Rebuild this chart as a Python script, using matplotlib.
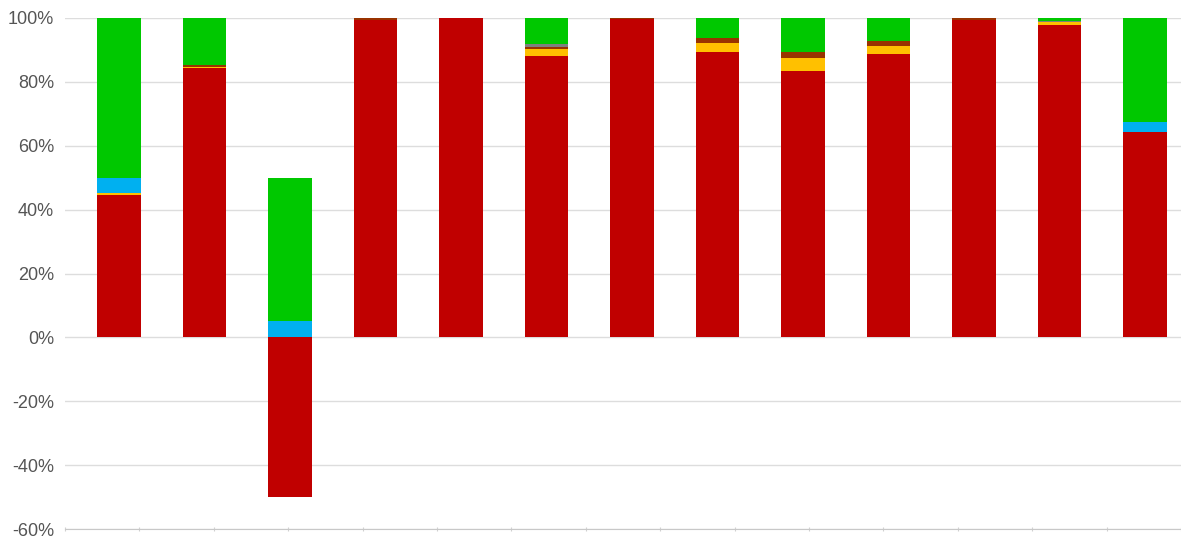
import numpy as np
import matplotlib.pyplot as plt
from matplotlib.ticker import FuncFormatter

# 13 unlabeled categories, stacked shares in percent (bottom to top)
categories = list(range(13))
red = [44.5, 84.3, -50.0, 99.5, 100.0, 88.0, 99.6, 89.5, 83.5, 88.8, 99.5, 97.8, 64.3]
yellow = [0.8, 0.5, 0.0, 0.0, 0.0, 2.4, 0.0, 2.7, 4.1, 2.5, 0.0, 0.8, 0.0]
brown = [0.0, 0.5, 0.0, 0.5, 0.0, 0.6, 0.4, 1.6, 1.9, 1.6, 0.5, 0.0, 0.0]
gray = [0.0, 0.0, 0.0, 0.0, 0.0, 1.0, 0.0, 0.0, 0.0, 0.0, 0.0, 0.4, 0.0]
blue = [4.5, 0.0, 5.0, 0.0, 0.0, 0.0, 0.0, 0.0, 0.0, 0.0, 0.0, 0.0, 3.1]
green = [50.2, 14.7, 45.0, 0.0, 0.0, 8.0, 0.0, 6.2, 10.5, 7.1, 0.0, 1.0, 32.6]

series = [red, yellow, brown, gray, blue, green]
colors = ['#C00000', '#FFC000', '#993300', '#7F7F7F', '#00B0F0', '#00C800']

plt.rcParams['font.family'] = ['Liberation Sans', 'DejaVu Sans']

fig = plt.figure(figsize=(11.81, 5.4), dpi=100)
ax = fig.add_axes([65 / 1181, 1 - 529 / 540, 1 - 65 / 1181, (529 - 18) / 540])

x = np.arange(len(categories))
pos_base = np.zeros(len(categories))
neg_base = np.zeros(len(categories))
for vals, c in zip(series, colors):
    v = np.array(vals)
    base = np.where(v >= 0, pos_base, neg_base)
    ax.bar(x, v, width=0.51, bottom=base, color=c, zorder=3)
    pos_base += np.where(v >= 0, v, 0)
    neg_base += np.where(v < 0, v, 0)

xmin, xmax = -0.63, 12.42
ax.set_xlim(xmin, xmax)
ax.set_ylim(-60, 100)
ax.set_yticks(np.arange(-60, 101, 20))
ax.yaxis.set_major_formatter(FuncFormatter(lambda v, p: '%d%%' % v))
ax.grid(axis='y', color='#DDDDDD', linewidth=1, zorder=0)

ax.set_xticks(np.linspace(xmin, xmax, 16))
ax.set_xticklabels([])
ax.tick_params(axis='x', length=3, color='#D0D0D0', direction='inout')
ax.tick_params(axis='y', length=0, labelsize=13, labelcolor='#555555', pad=8)

for s in ['top', 'right', 'left']:
    ax.spines[s].set_visible(False)
ax.spines['bottom'].set_color('#C8C8C8')
ax.spines['bottom'].set_zorder(4)

fig.savefig('out.png', dpi=100)
